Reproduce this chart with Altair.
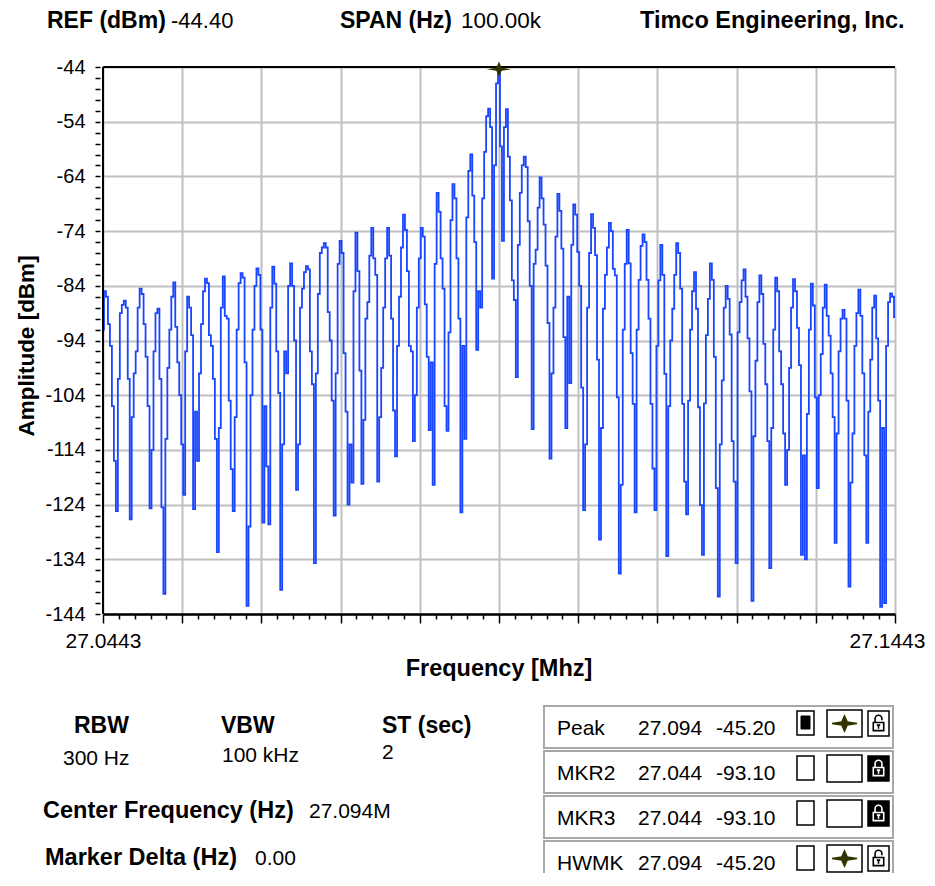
import altair as alt
import numpy as np
import pandas as pd

# ---------------- data ----------------
F_START = 27.0443
F_STOP = 27.1443

amplitude_dbm = [
    -92.0,
    -85.0, -86.0, -91.0, -95.0, -106.0, -116.0, -125.2, -101.0, -89.0, -87.5,
    -86.7, -88.0, -101.0, -126.7, -108.0, -100.0, -96.0, -88.0,
    -84.5, -85.5, -91.0, -97.0, -106.0, -124.7, -114.0, -96.0, -89.0,
    -88.2, -101.0, -124.5, -140.3, -112.0, -99.0, -92.0, -86.0,
    -83.4, -91.5, -98.0, -104.0, -113.0, -122.2, -96.0,
    -86.0, -88.0, -93.0, -124.8, -107.0, -116.0, -100.0, -91.0, -85.0,
    -82.7, -83.5, -93.0, -95.0, -101.0, -112.0, -132.7, -110.0, -88.0,
    -82.3, -89.5, -90.0, -105.0, -117.5, -125.2, -108.0, -92.0, -83.5,
    -81.7, -82.5, -98.0, -142.5, -128.0, -104.0, -92.0, -84.0,
    -80.8, -82.0, -92.0, -127.3, -106.0, -117.0, -127.6, -88.0,
    -80.5, -83.6, -96.0, -103.6, -139.6, -113.0, -96.0, -100.0, -84.0,
    -79.9, -84.0, -94.0, -121.3, -113.0, -88.0, -84.5, -81.5,
    -80.4, -81.0, -96.0, -102.0, -134.7, -100.0, -85.5, -78.0, -77.0,
    -76.2, -77.0, -88.8, -94.0, -105.0, -126.0, -100.0, -80.0,
    -75.8, -78.0, -96.3, -107.0, -124.0, -113.0, -120.0, -85.0,
    -74.3, -81.3, -99.5, -120.2, -108.5, -90.0, -87.0, -78.5,
    -73.4, -79.0, -82.0, -119.8, -108.0, -99.0, -88.0, -79.0,
    -73.4, -78.5, -90.0, -106.8, -115.2, -95.0, -86.0, -77.0,
    -71.0, -73.8, -81.3, -95.0, -96.0, -112.4, -104.0, -88.0, -79.0,
    -73.4, -75.0, -87.4, -97.0, -110.4, -98.0, -120.4, -80.0,
    -67.0, -70.5, -79.0, -84.5, -106.0, -110.5, -92.5, -72.0,
    -65.4, -68.0, -79.0, -90.0, -125.4, -95.0, -112.0, -71.5, -63.0,
    -60.0, -67.5, -76.0, -95.7, -85.0, -88.0, -68.0, -59.5, -53.0,
    -51.6, -55.0, -82.7, -62.0, -47.0,
    -44.4, -58.5, -75.8, -55.0,
    -51.7, -60.4, -68.4, -83.0, -86.6, -100.7, -76.5, -67.0, -62.0,
    -60.4, -62.3, -72.2, -84.0, -110.2, -80.0, -77.4, -69.7,
    -64.2, -68.0, -72.8, -80.3, -90.8, -115.6, -100.0, -88.0, -75.0,
    -67.2, -70.3, -77.2, -93.4, -110.0, -86.0, -101.8, -76.5,
    -69.1, -71.0, -77.8, -84.0, -102.6, -125.0, -113.0, -88.0, -78.0,
    -70.9, -73.4, -78.4, -97.5, -130.4, -110.0, -88.2, -82.0, -77.0,
    -72.5, -74.0, -80.9, -82.1, -104.4, -136.6, -120.4, -92.0, -80.0,
    -73.8, -79.9, -96.3, -105.6, -125.4, -92.0, -82.9, -76.7,
    -74.6, -76.0, -82.9, -90.0, -105.6, -117.4, -125.0, -95.0, -83.0,
    -76.5, -82.0, -100.1, -133.4, -106.0, -94.0, -88.2, -82.0,
    -76.2, -78.0, -84.5, -105.6, -119.8, -125.8, -105.0, -92.0, -85.0,
    -81.5, -88.2, -106.2, -124.1, -133.2, -105.5, -93.0, -86.4,
    -79.9, -82.9, -97.0, -121.0, -140.8, -113.0, -101.3, -88.0,
    -84.0, -86.4, -92.9, -112.4, -119.8, -134.7, -92.5, -87.0, -83.0,
    -81.0, -86.0, -93.6, -103.3, -141.6, -111.5, -97.7, -87.0,
    -82.1, -85.5, -94.6, -102.0, -112.4, -135.6, -110.0, -92.0,
    -82.5, -85.0, -96.0, -102.0, -111.0, -120.4, -114.0, -99.0, -88.0,
    -82.8, -85.0, -91.7, -98.5, -133.2, -115.0, -134.0, -107.4, -92.0,
    -83.6, -87.6, -104.4, -121.0, -104.0, -96.5, -88.0,
    -83.8, -89.5, -93.1, -100.0, -108.0, -131.0, -111.0, -96.0, -90.0,
    -88.4, -90.0, -105.0, -139.0, -120.0, -111.0, -95.0, -89.0,
    -84.7, -89.5, -100.0, -115.0, -131.0, -107.0, -97.5, -88.0,
    -85.8, -93.6, -105.0, -142.7, -110.0, -142.0, -95.0, -87.0,
    -85.4, -86.0, -89.7,
]

y_tick_values = [-144, -134, -124, -114, -104, -94, -84, -74, -64, -54, -44]
y_tick_labels = ["-144", "-134", "-124", "-114", "-104", "-94", "-84", "-74", "-64", "-54", "-44"]
x_tick_values = [27.0443, 27.1443]
x_tick_labels = ["27.0443", "27.1443"]

header_labels = ["REF (dBm)", "SPAN (Hz)"]
header_values = ["-44.40", "100.00k"]
company = "Timco Engineering, Inc."

settings_labels = ["RBW", "VBW", "ST (sec)"]
settings_values = ["300 Hz", "100 kHz", "2"]
center_freq = "27.094M"
marker_delta = "0.00"

marker_names = ["Peak", "MKR2", "MKR3", "HWMK"]
marker_freqs = ["27.094", "27.044", "27.044", "27.094"]
marker_levels = ["-45.20", "-93.10", "-93.10", "-45.20"]
marker_active = [True, False, False, False]
marker_visible = [True, False, False, True]
marker_locked = [False, True, True, False]

# ---------------- layout ----------------
W, H = 792, 547          # plot area
OX, OY = 103, 67         # page position of plot origin
SVG_H = 865
PAD = {"left": OX - 8, "top": OY - 8, "right": 935 - 8 - OX - W - 2, "bottom": SVG_H - (OY - 8) - H}

FONT = "Liberation Sans, Arial, Helvetica, sans-serif"
TRACE = "#1a45ff"
GRID = "#c0c0c0"
OLIVE = "#333300"
STAR = "M-1,0 L-0.22,-0.12 L0,-0.62 L0.22,-0.12 L1,0 L0.22,0.12 L0,0.62 L-0.22,0.12 Z"
LOCK_OPEN = ("M-0.55,-0.05 H0.55 V0.8 H-0.55 Z "
             "M-0.36,-0.05 V-0.45 A0.36,0.36 0 0 1 0.36,-0.45 V-0.3 "
             "M-0.18,0.22 H0.18 M0,0.22 V0.6")
LOCK_SHUT = ("M-0.55,-0.05 H0.55 V0.8 H-0.55 Z "
             "M-0.36,-0.05 V-0.45 A0.36,0.36 0 0 1 0.36,-0.45 V-0.05 "
             "M-0.18,0.22 H0.18 M0,0.22 V0.6")

freq_mhz = np.linspace(F_START, F_STOP, len(amplitude_dbm))
trace = pd.DataFrame({"freq": freq_mhz, "amp": amplitude_dbm})
ipk = int(np.argmax(amplitude_dbm))
peak = pd.DataFrame({"freq": [freq_mhz[ipk]], "amp": [amplitude_dbm[ipk]]})

one = pd.DataFrame({"k": [0]})

xs = alt.Scale(domain=[F_START, F_STOP], nice=False, zero=False)
ys = alt.Scale(domain=[-144, -44], nice=False, zero=False)

x_minor = [round(F_START + 0.002 * k, 4) for k in range(51)]
y_minor = list(range(-144, -43, 2))
X_MAJOR = "round((datum.value - %.4f) * 1000) %% 10 == 0" % F_START
Y_MAJOR = "(datum.value + 144) % 10 == 0"

x_label_expr = " : ".join(
    "abs(datum.value - %s) < 0.00005 ? '%s'" % (v, l) for v, l in zip(x_tick_values, x_tick_labels)
) + " : ''"
y_label_expr = " : ".join(
    "datum.value == %d ? '%s'" % (v, l) for v, l in zip(y_tick_values, y_tick_labels)
) + " : ''"

x_axis = alt.Axis(
    values=x_minor, tickCount=500, labelExpr=x_label_expr, title=None,
    grid=True, gridColor=GRID, gridWidth=2,
    gridOpacity={"condition": {"test": X_MAJOR, "value": 1}, "value": 0},
    tickColor="black", tickWidth=1.5,
    tickSize={"condition": {"test": X_MAJOR, "value": 9}, "value": 5},
    domainColor="black", domainWidth=2.5,
    labelFont=FONT, labelFontSize=21, labelColor="black", labelPadding=7,
    labelFlush=False, labelOverlap=False, labelBound=False,
    labelOffset={"condition": {"test": "datum.value > 27.144", "value": -8}, "value": 0},
)
y_axis = alt.Axis(
    values=y_minor, tickCount=500, labelExpr=y_label_expr, title=None,
    grid=True, gridColor=GRID, gridWidth=2,
    gridOpacity={"condition": {"test": Y_MAJOR, "value": 1}, "value": 0},
    tickColor="black", tickWidth=1.5, tickSize=5,
    domain=False, offset=3,
    labelFont=FONT, labelFontSize=20, labelColor="black", labelPadding=10,
    labelOverlap=False, labelFlush=False, labelBound=False,
)

line = alt.Chart(trace).mark_line(
    interpolate="step", color=TRACE, strokeWidth=1.8, clip=True
).encode(
    x=alt.X("freq:Q", scale=xs, axis=x_axis),
    y=alt.Y("amp:Q", scale=ys, axis=y_axis),
)

peak_mark = alt.Chart(peak).mark_point(
    shape=STAR, filled=True, color=OLIVE, size=600, opacity=1
).encode(x=alt.X("freq:Q", scale=xs), y=alt.Y("amp:Q", scale=ys))


def rule(x1, y1, x2, y2, color="black", w=2):
    return alt.Chart(one).mark_rule(color=color, strokeWidth=w).encode(
        x=alt.value(x1), y=alt.value(y1), x2=alt.value(x2), y2=alt.value(y2))


def txt(s, x, y, size=21, bold=False, align="left", baseline="alphabetic", angle=0, color="black"):
    return alt.Chart(one).mark_text(
        text=s, font=FONT, fontSize=size, fontWeight="bold" if bold else "normal",
        align=align, baseline=baseline, angle=angle, color=color,
    ).encode(x=alt.value(x - OX), y=alt.value(y - OY))


def box(x1, y1, x2, y2, fill="white", stroke="black", sw=1.5):
    return alt.Chart(one).mark_rect(fill=fill, stroke=stroke, strokeWidth=sw, opacity=1).encode(
        x=alt.value(x1 - OX), x2=alt.value(x2 - OX), y=alt.value(y1 - OY), y2=alt.value(y2 - OY))


def glyph(path, x, y, size, color, filled=True, sw=1.5):
    kw = dict(shape=path, filled=filled, stroke=color, strokeWidth=sw, size=size, opacity=1)
    if filled:
        kw["fill"] = color
    return alt.Chart(one).mark_point(**kw).encode(x=alt.value(x - OX), y=alt.value(y - OY))


layers = [line]
# frame
layers.append(rule(0, 0, W, 0))
layers.append(rule(0, 0, 0, H))
layers.append(peak_mark)

# header
layers.append(txt(header_labels[0], 47, 28, 23, True))
layers.append(txt(header_values[0], 171, 28, 22))
layers.append(txt(header_labels[1], 340, 28, 23, True))
layers.append(txt(header_values[1], 461, 28, 22.5))
layers.append(txt(company, 640, 28, 23.5, True))

# axis titles
layers.append(txt("Amplitude [dBm]", 27, 346, 22.5, True, align="center", baseline="middle", angle=270))
layers.append(txt("Frequency [Mhz]", 499, 676, 23.5, True, align="center"))

# settings block
for lab, val, lx, vx, vy in zip(settings_labels, settings_values, [74, 221, 382], [63, 222, 382], [765, 762, 759]):
    layers.append(txt(lab, lx, 733, 23, True))
    layers.append(txt(val, vx, vy, 21))
layers.append(txt("Center Frequency (Hz)", 43, 818, 23.5, True))
layers.append(txt(center_freq, 309, 818, 21))
layers.append(txt("Marker Delta (Hz)", 45, 865, 23.5, True))
layers.append(txt(marker_delta, 255, 865, 21))

# marker table
row_tops = [706, 751, 796, 841]
for i, top in enumerate(row_tops):
    bottom = top + 42 if i < len(row_tops) - 1 else 920
    layers.append(box(544, top, 893, bottom, fill="white", stroke="#a8a8a8", sw=2))
    layers.append(txt(marker_names[i], 557, top + 29, 21))
    layers.append(txt(marker_freqs[i], 638, top + 29, 21))
    layers.append(txt(marker_levels[i], 716, top + 29, 21))
    # active checkbox
    layers.append(box(797, top + 5, 814, top + 29))
    if marker_active[i]:
        layers.append(box(801, top + 10, 810, top + 23, fill="black", stroke="black", sw=1))
    # visibility box
    layers.append(box(827, top + 4, 862, top + 31))
    if marker_visible[i]:
        layers.append(glyph(STAR, 844.5, top + 17.5, 620, OLIVE))
    # lock box
    locked = marker_locked[i]
    layers.append(box(868, top + 5, 889, top + 30, fill="black" if locked else "white"))
    layers.append(glyph(LOCK_SHUT if locked else LOCK_OPEN, 878.5, top + 17, 360,
                        "white" if locked else "black", filled=False, sw=1.6))

chart = alt.layer(*layers).properties(
    width=W, height=H, padding=PAD, autosize=alt.AutoSizeParams(type="none"),
    background="white",
).configure_view(stroke=None)

chart.save("out.html", embed_options={"renderer": "svg", "actions": False})
